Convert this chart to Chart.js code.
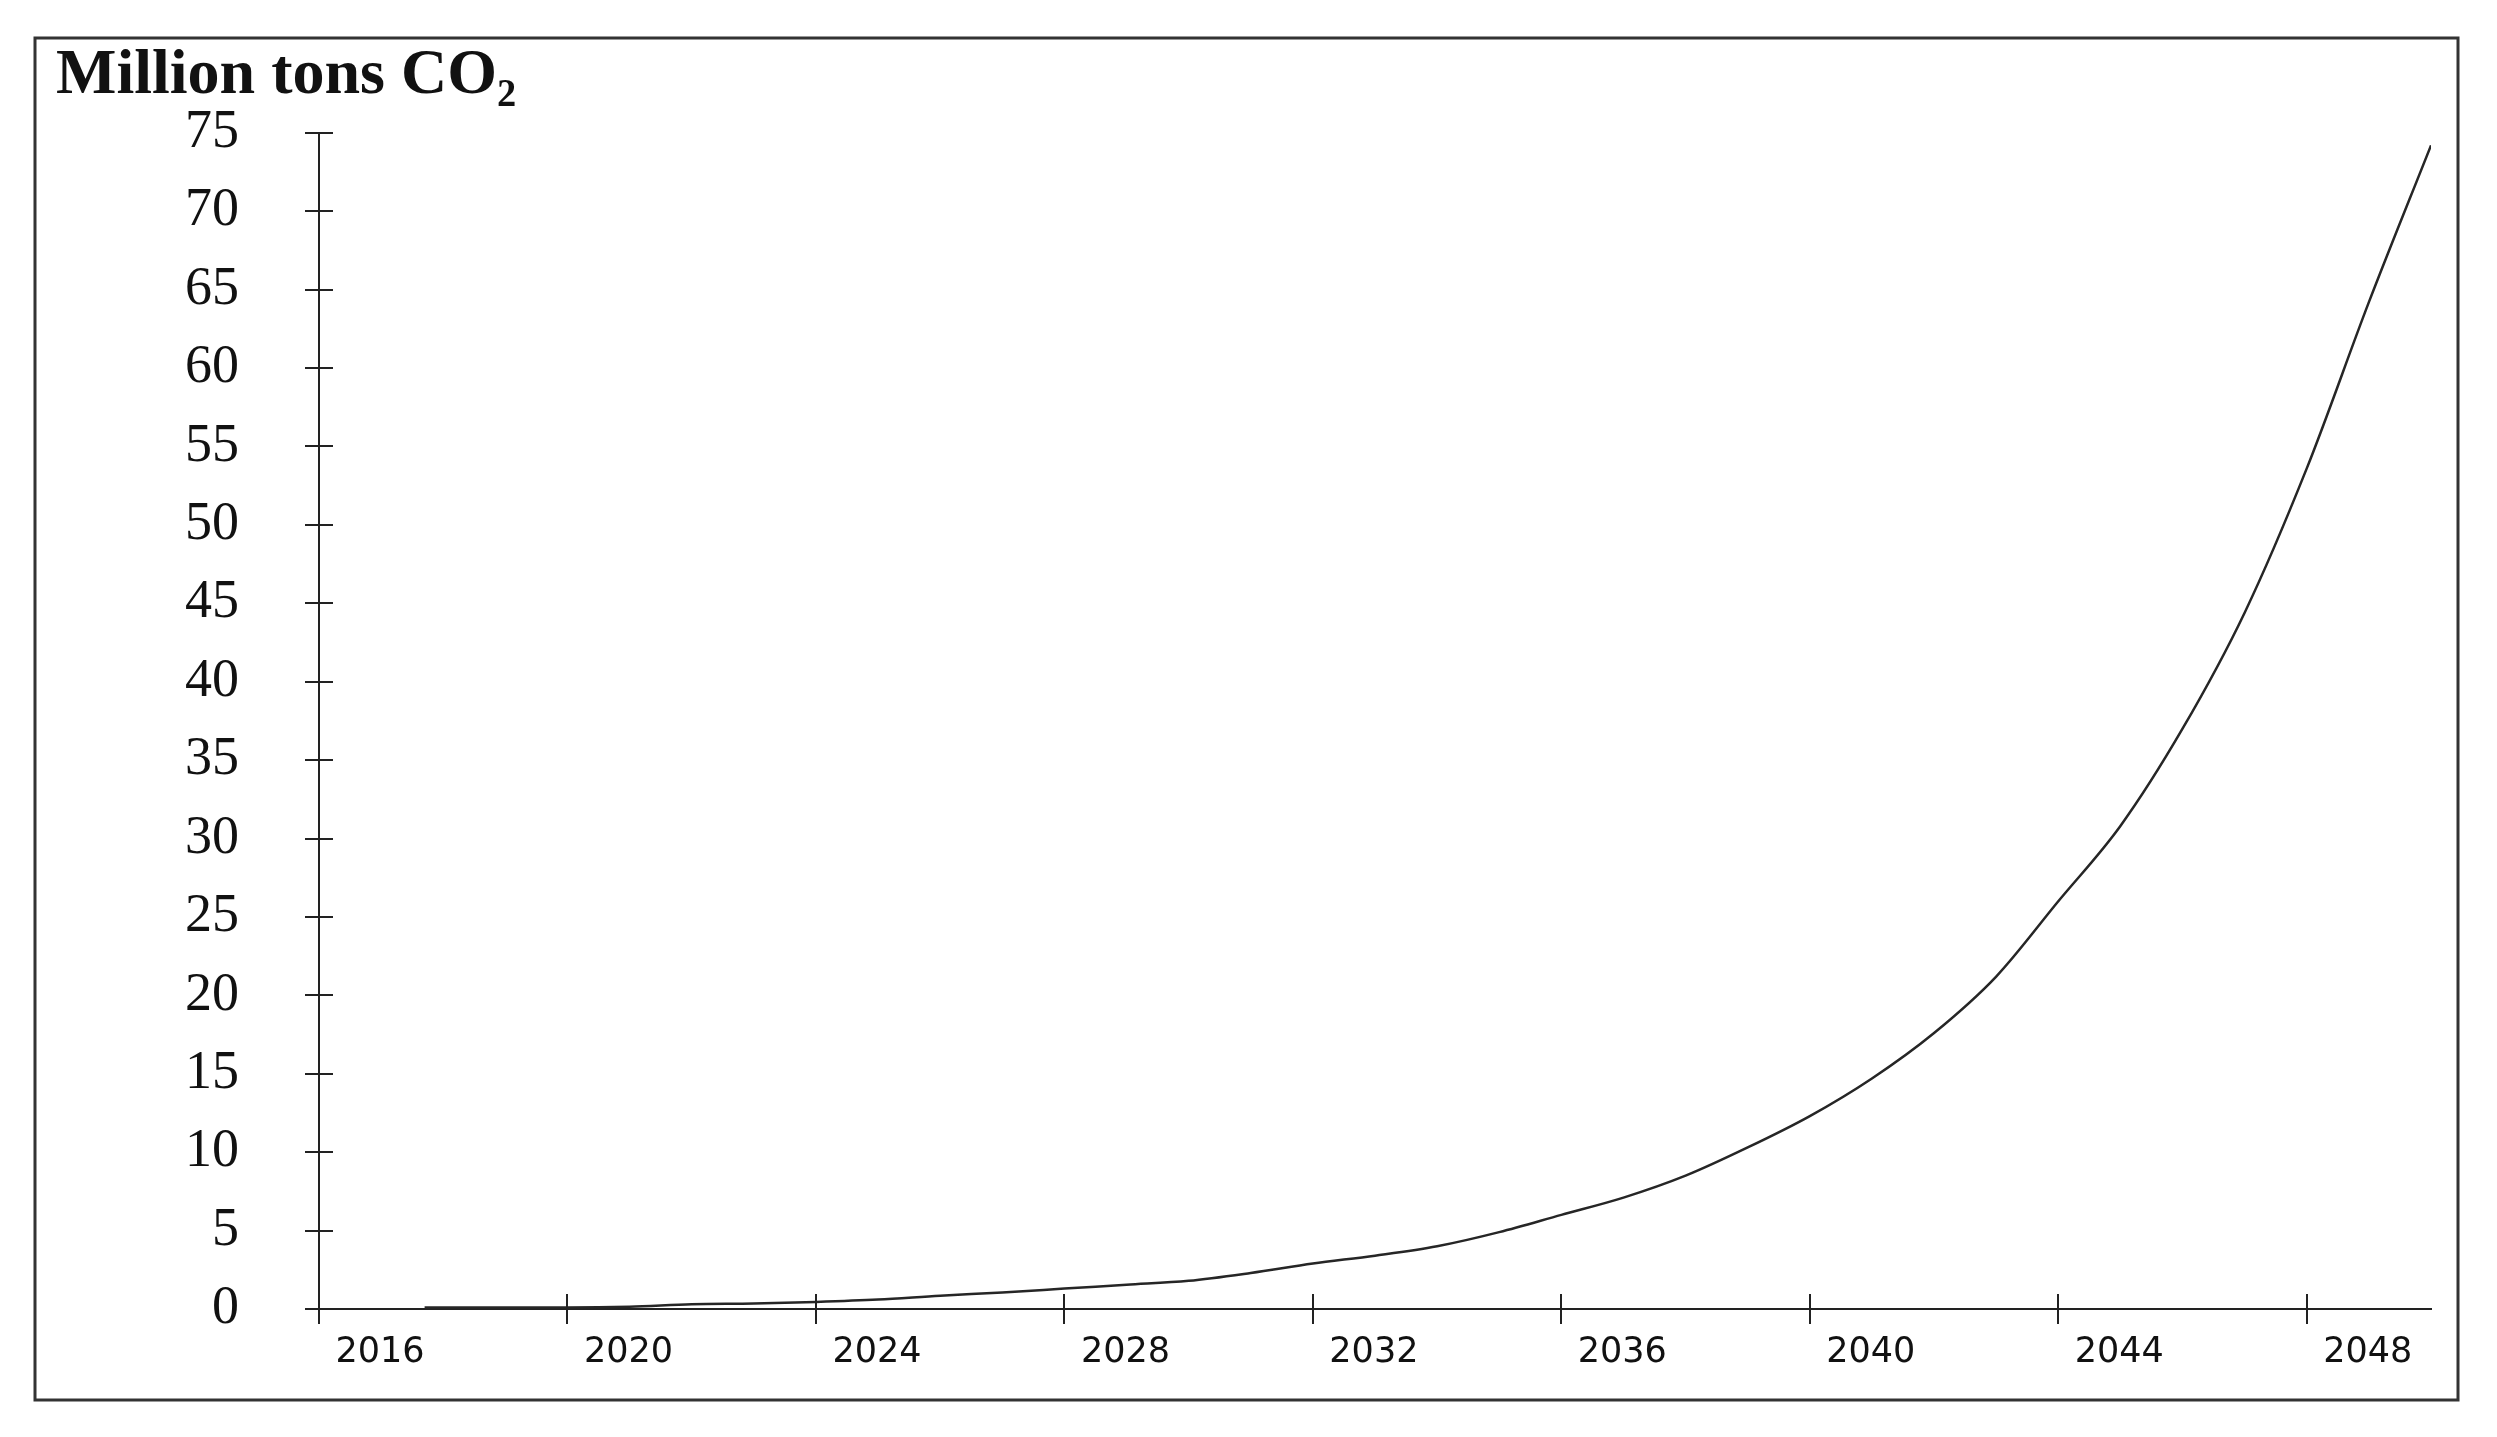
<!DOCTYPE html>
<html>
<head>
<meta charset="utf-8">
<script src="https://cdn.jsdelivr.net/npm/chart.js@4.4.0/dist/chart.umd.min.js"></script>
<style>
  html, body { margin: 0; padding: 0; background: #ffffff; }
  #c { display: block; }
</style>
</head>
<body>
<canvas id="c" width="2497" height="1437"></canvas>
<script>
// ---- Data ----
const titleText = "Million tons CO\u2082";
const years = [2017.7, 2018, 2019, 2020, 2021, 2022, 2023, 2024, 2025, 2026, 2027, 2028, 2029, 2030,
               2031, 2032, 2033, 2034, 2035, 2036, 2037, 2038, 2039, 2040,
               2041, 2042, 2043, 2044, 2045, 2046, 2047, 2048, 2049, 2050];
const emissions = [0.1, 0.1, 0.1, 0.1, 0.15, 0.3, 0.35, 0.45, 0.6, 0.85, 1.05, 1.3, 1.55, 1.8,
                   2.3, 2.9, 3.4, 4.0, 4.9, 6.0, 7.1, 8.5, 10.3, 12.3,
                   14.7, 17.6, 21.2, 26.0, 30.8, 37.0, 44.4, 53.6, 64.2, 74.2];
const xMin = 2016, xMax = 2050, xStep = 4;
const yMin = 0, yMax = 75, yStep = 5;

const points = years.map((yr, i) => ({ x: yr, y: emissions[i] }));

// Background + outer frame
const framePlugin = {
  id: 'frame',
  beforeDraw(chart) {
    const ctx = chart.ctx;
    ctx.save();
    ctx.fillStyle = '#ffffff';
    ctx.fillRect(0, 0, chart.width, chart.height);
    ctx.strokeStyle = '#333333';
    ctx.lineWidth = 3;
    ctx.strokeRect(35, 38, 2423, 1362);
    ctx.restore();
  }
};

// Tick marks that also cross into the plot area
const crossTicks = {
  id: 'crossTicks',
  afterDraw(chart) {
    const ctx = chart.ctx;
    const xs = chart.scales.x, ys = chart.scales.y;
    const area = chart.chartArea;
    ctx.save();
    ctx.strokeStyle = '#222222';
    ctx.lineWidth = 2;
    ctx.beginPath();
    ys.ticks.forEach((t, i) => {
      const py = Math.round(ys.getPixelForTick(i));
      ctx.moveTo(area.left, py);
      ctx.lineTo(area.left + 14, py);
    });
    xs.ticks.forEach((t, i) => {
      const px = Math.round(xs.getPixelForTick(i));
      ctx.moveTo(px, area.bottom);
      ctx.lineTo(px, area.bottom - 15);
    });
    ctx.stroke();
    ctx.restore();
  }
};

new Chart(document.getElementById('c'), {
  type: 'line',
  data: {
    datasets: [{
      data: points,
      borderColor: '#262626',
      borderWidth: 2.5,
      pointRadius: 0,
      fill: false,
      cubicInterpolationMode: 'monotone'
    }]
  },
  options: {
    responsive: false,
    animation: false,
    events: [],
    layout: { padding: { left: 56, right: 66, top: 0, bottom: 48 } },
    plugins: {
      legend: { display: false },
      tooltip: { enabled: false },
      title: {
        display: true,
        text: titleText,
        align: 'start',
        color: '#111111',
        font: { family: "'Liberation Serif', 'Times New Roman', serif", size: 64, weight: 'bold', lineHeight: 1.2 },
        padding: { top: 38, bottom: 18 }
      }
    },
    scales: {
      x: {
        type: 'linear',
        min: xMin,
        max: xMax,
        grid: { drawOnChartArea: false, drawTicks: true, tickLength: 15, color: '#222222', lineWidth: 2 },
        border: { display: true, color: '#222222', width: 2 },
        ticks: {
          stepSize: xStep,
          includeBounds: false,
          autoSkip: false,
          maxRotation: 0,
          minRotation: 0,
          labelOffset: 61,
          padding: 8,
          color: '#111111',
          font: { family: "'DejaVu Sans', Verdana, sans-serif", size: 35 },
          callback: (v) => String(v)
        },
        afterFit(scale) { scale.height = 80; }
      },
      y: {
        type: 'linear',
        min: yMin,
        max: yMax,
        grid: { drawOnChartArea: false, drawTicks: true, tickLength: 14, color: '#222222', lineWidth: 2 },
        border: { display: true, color: '#222222', width: 2 },
        ticks: {
          stepSize: yStep,
          autoSkip: false,
          padding: 66,
          color: '#111111',
          font: { family: "'Liberation Serif', 'Times New Roman', serif", size: 54 },
          callback: (v) => String(v)
        },
        afterFit(scale) { scale.width = 263; }
      }
    }
  },
  plugins: [framePlugin, crossTicks]
});
</script>
</body>
</html>
